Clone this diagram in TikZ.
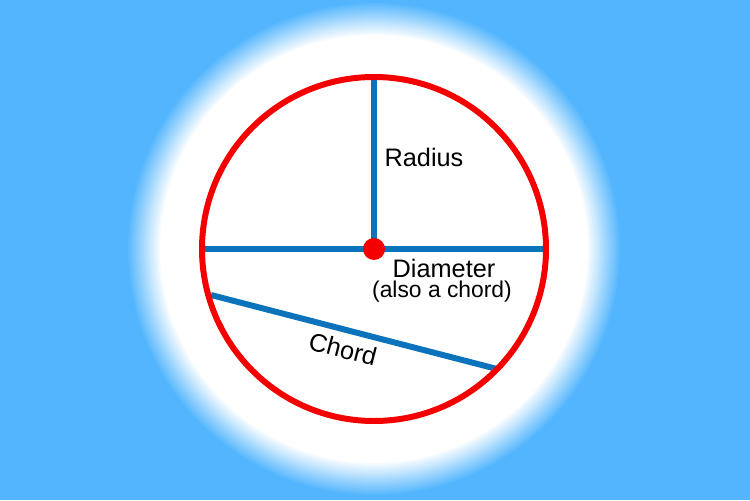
\documentclass[tikz,border=0pt]{standalone}
\usepackage{fontspec}
\setmainfont{Liberation Sans}
\definecolor{skyblue}{HTML}{52B5FD}
\definecolor{ringred}{HTML}{F40000}
\definecolor{lineblue}{HTML}{0B72BC}
\tikzset{
  ring/.style={draw=ringred, line width=3.4pt},
  segment/.style={draw=lineblue, line width=3.4pt},
  lbl/.style={font=\fontsize{14.4}{16}\selectfont, inner sep=0pt}
}
\begin{document}
\begin{tikzpicture}[x=0.02cm, y=0.02cm]
    % Background and glow
    \fill[skyblue] (0,0) rectangle (750,500);
    \useasboundingbox (0,0) rectangle (750,500);
    \foreach \i in {0,...,17}
        \fill[white!\the\numexpr 100*\i/17\relax!skyblue] (374,251) circle ({248-2*\i});

    % Define points
    \coordinate (o) at (374,251);
    \coordinate (top) at (374,423);
    \coordinate (left) at (203,251);
    \coordinate (right) at (546,251);
    \coordinate (ca) at (211,205);
    \coordinate (cb) at (497,131);

    % Draw segments
    \draw[segment] (o) -- (top);
    \draw[segment] (left) -- (right);
    \draw[segment] (ca) -- (cb);

    % Draw circle and centre
    \draw[ring] (o) circle (172);
    \fill[ringred] (o) circle (11);

    % Labels
    \node[lbl] (radius) at (424,343) {Radius};
    \node[lbl] (diam) at (444,232) {Diameter};
    \node[lbl, font=\fontsize{13}{15}\selectfont] (also) at (442,208) {(also a chord)};
    \node[lbl, rotate=-14.5] (chord) at (343,151) {Chord};
\end{tikzpicture}
\end{document}
